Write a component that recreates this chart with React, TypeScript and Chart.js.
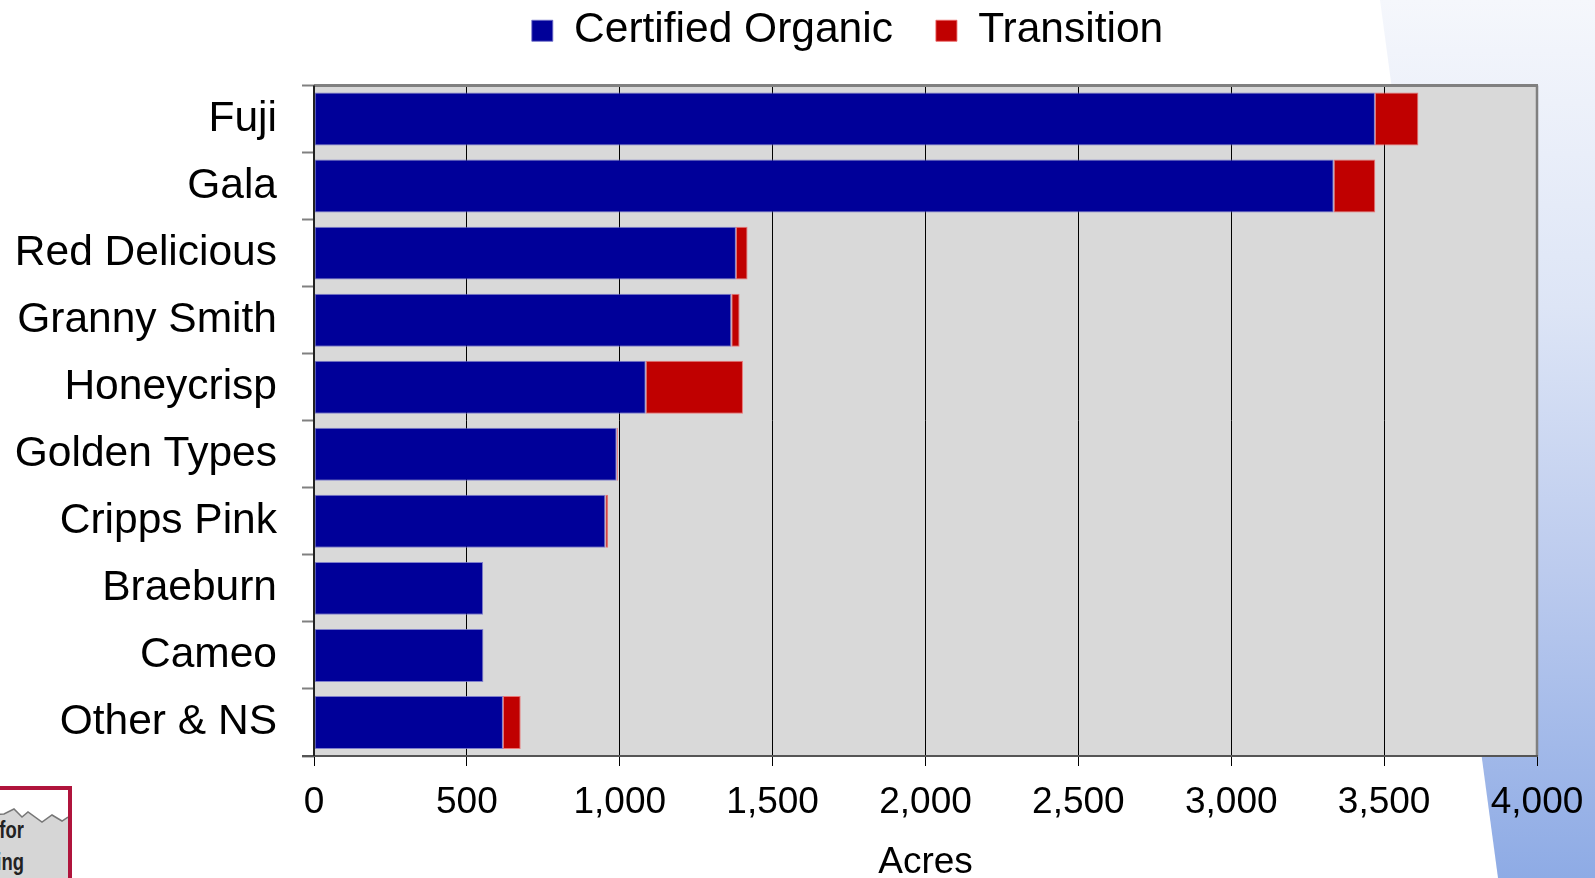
import React, { useEffect, useRef } from 'react';
import { Chart, registerables } from 'chart.js';

Chart.register(...registerables);

const categories = [
  'Fuji',
  'Gala',
  'Red Delicious',
  'Granny Smith',
  'Honeycrisp',
  'Golden Types',
  'Cripps Pink',
  'Braeburn',
  'Cameo',
  'Other & NS',
];
const seriesNames = ['Certified Organic', 'Transition'];
const certifiedOrganic = [3470, 3335, 1380, 1365, 1085, 990, 953, 553, 554, 618];
const transition = [142, 136, 38, 27, 318, 4, 9, 0, 0, 58];
const xTickValues = [0, 500, 1000, 1500, 2000, 2500, 3000, 3500, 4000];
const xTitle = 'Acres';

const FONT = '"Liberation Sans", Arial, Helvetica, sans-serif';
const W = 1595;
const H = 878;
const LEGEND_DX = 79;
const LEGEND_DY = -33.5;

const framePlugin = {
  id: 'framePlugin',
  beforeInit(chart: any) {
    const lg = chart.legend;
    if (lg) {
      const orig = lg.fit;
      lg.fit = function () {
        orig.call(this);
        this.height = 85.5;
      };
    }
  },
  afterLayout(chart: any) {
    const lg = chart.legend;
    if (lg) {
      lg.left += LEGEND_DX;
      lg.right += LEGEND_DX;
      lg.top += LEGEND_DY;
      lg.bottom += LEGEND_DY;
    }
  },
  beforeDraw(chart: any) {
    const { ctx, chartArea: a } = chart;
    ctx.save();
    ctx.fillStyle = '#d9d9d9';
    ctx.fillRect(a.left, a.top, a.right - a.left, a.bottom - a.top);
    ctx.restore();
  },
  afterDraw(chart: any) {
    const { ctx, chartArea: a } = chart;
    ctx.save();
    ctx.strokeStyle = '#808080';
    ctx.lineWidth = 3;
    ctx.beginPath();
    ctx.moveTo(a.left, a.top);
    ctx.lineTo(a.right + 1, a.top);
    ctx.stroke();
    ctx.lineWidth = 2.5;
    ctx.beginPath();
    ctx.moveTo(a.right, a.top);
    ctx.lineTo(a.right, a.bottom);
    ctx.stroke();
    ctx.strokeStyle = '#555555';
    ctx.lineWidth = 2;
    ctx.beginPath();
    ctx.moveTo(a.left - 12, a.bottom);
    ctx.lineTo(a.right + 1, a.bottom);
    ctx.stroke();
    ctx.strokeStyle = '#222222';
    ctx.lineWidth = 2;
    ctx.beginPath();
    ctx.moveTo(a.left, a.top);
    ctx.lineTo(a.left, a.bottom);
    ctx.stroke();
    ctx.restore();
  },
};

function ChartCanvas() {
  const ref = useRef<HTMLCanvasElement | null>(null);
  useEffect(() => {
    if (!ref.current) return;
    const chart = new Chart(ref.current, {
      type: 'bar',
      data: {
        labels: categories,
        datasets: [
          {
            label: seriesNames[0],
            data: certifiedOrganic,
            backgroundColor: '#000099',
            borderColor: 'rgba(110,110,200,0.85)',
            borderWidth: 1,
            borderSkipped: false,
            barPercentage: 0.79,
            categoryPercentage: 1,
          },
          {
            label: seriesNames[1],
            data: transition,
            backgroundColor: '#c00000',
            borderColor: 'rgba(235,100,100,0.85)',
            borderWidth: 1,
            borderSkipped: false,
            barPercentage: 0.79,
            categoryPercentage: 1,
          },
        ],
      },
      options: {
        indexAxis: 'y',
        responsive: false,
        animation: false,
        devicePixelRatio: 1,
        layout: { padding: { left: 0, right: 58, top: 0, bottom: 0 } },
        plugins: {
          legend: {
            display: true,
            position: 'top',
            labels: {
              boxWidth: 21,
              boxHeight: 21,
              padding: 43,
              color: '#000',
              font: { family: FONT, size: 42.5 },
            },
          },
          tooltip: { enabled: false },
        },
        scales: {
          x: {
            stacked: true,
            min: 0,
            max: 4000,
            afterFit: (s: any) => {
              s.height = H - 756;
            },
            afterBuildTicks: (s: any) => {
              s.ticks = xTickValues.map((v) => ({ value: v }));
            },
            ticks: {
              color: '#000',
              padding: 11,
              font: { family: FONT, size: 37, lineHeight: 1.4 },
              callback: (v: any) => Number(v).toLocaleString('en-US'),
            },
            grid: {
              color: '#000',
              lineWidth: 1,
              tickLength: 10,
              tickColor: '#000',
            },
            border: { display: false },
            title: {
              display: true,
              text: xTitle,
              color: '#000',
              font: { family: FONT, size: 37, lineHeight: 0.84 },
              padding: { top: 0, bottom: 0 },
            },
          },
          y: {
            stacked: true,
            afterFit: (s: any) => {
              s.width = 314;
            },
            ticks: {
              color: '#000',
              padding: 25,
              autoSkip: false,
              font: { family: FONT, size: 42.5 },
            },
            grid: {
              drawOnChartArea: false,
              drawTicks: true,
              tickLength: 12,
              tickColor: '#808080',
              tickWidth: 2,
              offset: true,
            },
            border: { display: false },
          },
        },
      },
      plugins: [framePlugin],
    } as any);
    return () => chart.destroy();
  }, []);
  return <canvas ref={ref} width={W} height={H} style={{ position: 'absolute', left: 0, top: 0, width: W, height: H }} />;
}

function Logo() {
  return (
    <div
      style={{
        position: 'absolute',
        left: -90,
        top: 786,
        width: 154,
        height: 110,
        border: '4px solid #b0143c',
        background: '#ffffff',
        overflow: 'hidden',
      }}
    >
      <svg width={154} height={110} style={{ position: 'absolute', left: 0, top: 0 }}>
        <polygon
          points="0,110 0,30 90,24 100,19 108,27 114,22 128,32 138,25 148,31 154,27 154,110"
          fill="#d6d6d6"
        />
        <polyline
          points="0,30 90,24 100,19 108,27 114,22 128,32 138,25 148,31 154,27"
          fill="none"
          stroke="#777"
          strokeWidth={1.5}
        />
      </svg>
      <div
        style={{
          position: 'absolute',
          right: 44,
          top: 24,
          font: `bold 23px "Liberation Sans Narrow", ${FONT}`,
          color: '#222',
          whiteSpace: 'nowrap',
          lineHeight: '32px',
          textAlign: 'right',
          transform: 'scaleX(0.8)',
          transformOrigin: 'right center',
        }}
      >
        <div>Center for</div>
        <div>Farming</div>
      </div>
    </div>
  );
}

export default function App() {
  return (
    <div
      style={{
        position: 'fixed',
        left: 0,
        top: 0,
        width: W,
        height: H,
        overflow: 'hidden',
        background: '#ffffff',
      }}
    >
      <div
        style={{
          position: 'absolute',
          left: 0,
          top: 0,
          width: W,
          height: H,
          background: 'linear-gradient(to bottom, #f5f7fc 0%, #dde5f6 35%, #bccbee 65%, #8eabe5 100%)',
          clipPath: 'polygon(1380px 0px, 1595px 0px, 1595px 878px, 1498px 878px)',
        }}
      />
      <Logo />
      <ChartCanvas />
    </div>
  );
}
